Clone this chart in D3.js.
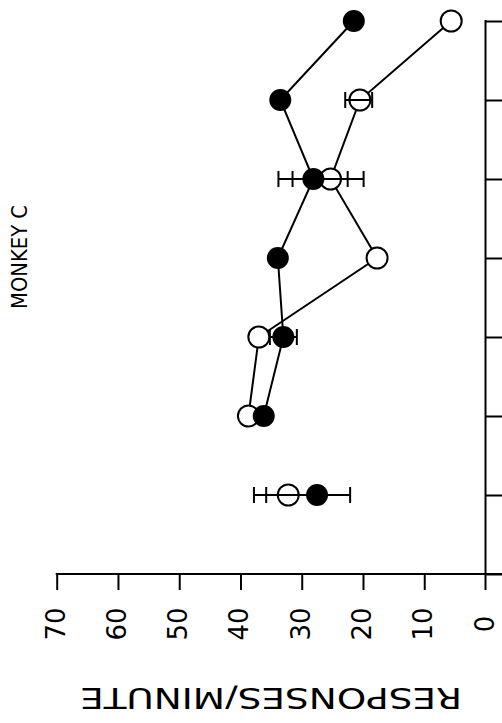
<!DOCTYPE html>
<html>
<head>
<meta charset="utf-8">
<script src="https://cdn.jsdelivr.net/npm/d3@7"></script>
<style>
  html, body { margin: 0; padding: 0; background: #fff; }
  svg { display: block; }
</style>
</head>
<body>
<svg id="chart" width="502" height="723"></svg>
<script>
// ---- data ----
const rows = [0, 1, 2, 3, 4, 5, 6];                 // category positions (top to bottom)
const filledValues = [21.5, 33.5, 28.1, 33.9, 33.0, 36.2, 27.5];
const openValues   = [5.6, 20.5, 25.3, 17.7, 37.0, 38.7, 32.2];
const filledErrLow  = [null, null, 22.5, null, 30.8, null, 22.1];
const filledErrHigh = [null, null, 33.8, null, 35.2, null, 35.8];
const openErrLow    = [null, 18.5, 19.9, null, null, null, 26.8];
const openErrHigh   = [null, 22.9, 31.5, null, null, null, 37.8];
const connectedRows = [0, 1, 2, 3, 4, 5];           // rows joined by lines
const valueTicks = [0, 10, 20, 30, 40, 50, 60, 70];
const rowTicks = [0, 1, 2, 3, 4, 5, 6, 7];
const valueTitle = "RESPONSES/MINUTE";
const panelTitle = "MONKEY C";

// ---- scales ----
const svg = d3.select("#chart");
const x = d3.scaleLinear().domain([0, 70]).range([485.5, 56.7]);
const y = d3.scaleLinear().domain([0, 7]).range([21, 574]);
const ink = "#000";

// ---- value axis (bottom) ----
const xAxis = d3.axisBottom(x).tickValues(valueTicks.filter(v => v !== 0))
  .tickSize(16).tickSizeOuter(0).tickFormat("");
const gx = svg.append("g").attr("transform", `translate(0,${y(7)})`).call(xAxis);
gx.select(".domain").remove();
gx.selectAll(".tick line").attr("stroke", ink).attr("stroke-width", 2);
svg.append("line")
  .attr("x1", x(70) - 1).attr("x2", 502)
  .attr("y1", y(7)).attr("y2", y(7))
  .attr("stroke", ink).attr("stroke-width", 2);

svg.append("g").selectAll("text").data(valueTicks).join("text")
  .attr("transform", d => `translate(${x(d) - 1},${624}) rotate(-90)`)
  .attr("text-anchor", "middle")
  .attr("dominant-baseline", "central")
  .attr("font-family", "DejaVu Sans, sans-serif")
  .attr("font-size", 26)
  .attr("fill", ink)
  .text(d => d);

// upside-down axis title
svg.append("text")
  .attr("transform", `translate(271,697) rotate(180)`)
  .attr("text-anchor", "middle")
  .attr("dominant-baseline", "central")
  .attr("font-family", "DejaVu Sans, sans-serif")
  .attr("font-size", 28)
  .attr("textLength", 382)
  .attr("lengthAdjust", "spacingAndGlyphs")
  .attr("fill", ink)
  .text(valueTitle);

// ---- category axis (right) ----
const yAxis = d3.axisRight(y).tickValues(rowTicks).tickSize(20).tickSizeOuter(0).tickFormat("");
const gy = svg.append("g").attr("transform", `translate(${x(0)},0)`).call(yAxis);
gy.select(".domain").remove();
gy.selectAll(".tick line").attr("stroke", ink).attr("stroke-width", 2);
svg.append("line")
  .attr("x1", x(0)).attr("x2", x(0))
  .attr("y1", y(0) - 1).attr("y2", y(7) + 16)
  .attr("stroke", ink).attr("stroke-width", 2);

// panel label
svg.append("text")
  .attr("transform", `translate(19,257) rotate(-90)`)
  .attr("text-anchor", "middle")
  .attr("dominant-baseline", "central")
  .attr("font-family", "DejaVu Sans, sans-serif")
  .attr("font-size", 22)
  .attr("textLength", 104)
  .attr("lengthAdjust", "spacingAndGlyphs")
  .attr("fill", ink)
  .text(panelTitle);

// ---- connecting lines ----
const line = d3.line().x(d => x(d.v)).y(d => y(d.r));
const series = [
  { vals: filledValues, lo: filledErrLow, hi: filledErrHigh },
  { vals: openValues, lo: openErrLow, hi: openErrHigh }
];
series.forEach(s => {
  svg.append("path")
    .datum(connectedRows.map(r => ({ r, v: s.vals[r] })))
    .attr("d", line)
    .attr("fill", "none")
    .attr("stroke", ink)
    .attr("stroke-width", 2);
});

// ---- open circles ----
const openPts = rows.map(r => ({ r, v: openValues[r] }));
svg.append("g").selectAll("circle").data(openPts).join("circle")
  .attr("cx", d => x(d.v)).attr("cy", d => y(d.r)).attr("r", 10.5)
  .attr("fill", "#fff").attr("stroke", ink).attr("stroke-width", 2);

// ---- error bars ----
const errs = [];
series.forEach(s => rows.forEach(r => {
  if (s.lo[r] != null) errs.push({ r, lo: s.lo[r], hi: s.hi[r] });
}));
const ge = svg.append("g").attr("stroke", ink).attr("stroke-width", 2);
ge.selectAll("line.bar").data(errs).join("line").attr("class", "bar")
  .attr("x1", d => x(d.lo)).attr("x2", d => x(d.hi))
  .attr("y1", d => y(d.r)).attr("y2", d => y(d.r));
ge.selectAll("line.capL").data(errs).join("line").attr("class", "capL")
  .attr("x1", d => x(d.lo)).attr("x2", d => x(d.lo))
  .attr("y1", d => y(d.r) - 8).attr("y2", d => y(d.r) + 8);
ge.selectAll("line.capH").data(errs).join("line").attr("class", "capH")
  .attr("x1", d => x(d.hi)).attr("x2", d => x(d.hi))
  .attr("y1", d => y(d.r) - 8).attr("y2", d => y(d.r) + 8);

// ---- filled circles ----
const filledPts = rows.map(r => ({ r, v: filledValues[r] }));
svg.append("g").selectAll("circle").data(filledPts).join("circle")
  .attr("cx", d => x(d.v)).attr("cy", d => y(d.r)).attr("r", 11)
  .attr("fill", ink);
</script>
</body>
</html>
